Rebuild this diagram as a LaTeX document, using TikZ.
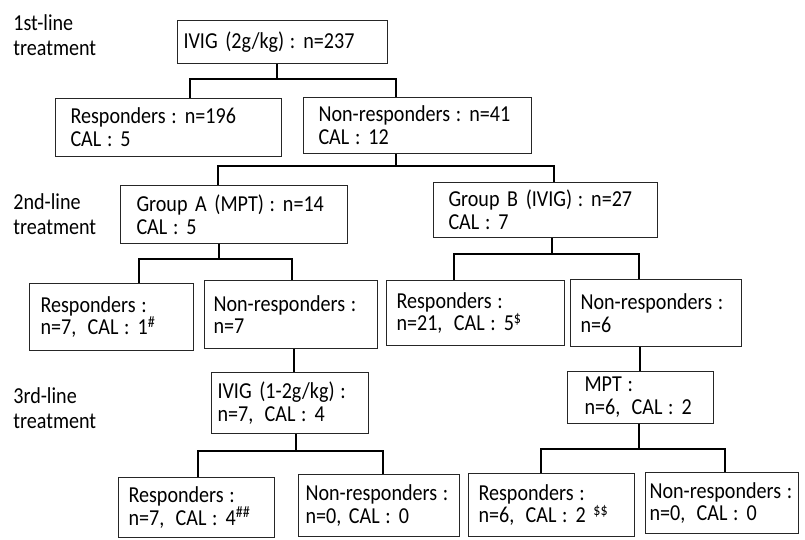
\documentclass[tikz,border=0pt]{standalone}
\usepackage{fontspec}
\setmainfont{Carlito}[FakeStretch=0.88]
\usetikzlibrary{positioning}
\newcommand{\kcol}{\nobreak\hspace{0.25em}:}
\newcommand{\ksep}{\kcol\nobreak\hspace{0.35em}}

\begin{document}
\begin{tikzpicture}[x=0.02cm, y=-0.02cm,
    every node/.style={font=\fontsize{13}{13}\selectfont},
    box/.style={draw=black!85, line width=0.6pt, anchor=north west, align=left, inner ysep=0pt},
    lbl/.style={anchor=west, align=left, inner sep=0pt, font=\fontsize{13}{14}\selectfont},
    link/.style={line width=1pt}]
  \useasboundingbox (0,0) rectangle (805,540);

  % Stufen
  \node[lbl] (l1) at (13,35) {1st-line\\treatment};
  \node[lbl] (l2) at (13,214) {2nd-line\\treatment};
  \node[lbl] (l3) at (13,408) {3rd-line\\treatment};

  % 1st-line
  \node[box, inner xsep=0.12cm, text width=3.96cm, minimum height=0.86cm] (root) at (177,20) {IVIG (2g/kg)\ksep n=237};
  \node[box, inner xsep=0.3cm, text width=3.92cm, minimum height=1.16cm] (r1) at (55,98) {Responders\ksep n=196\\CAL\ksep 5};
  \node[box, inner xsep=0.3cm, text width=3.96cm, minimum height=1.12cm] (n1) at (303,97) {Non-responders\ksep n=41\\CAL\ksep 12};

  % 2nd-line
  \node[box, inner xsep=0.32cm, text width=3.9cm, minimum height=1.16cm] (gA) at (120,185) {Group A (MPT)\ksep n=14\\CAL\ksep 5};
  \node[box, inner xsep=0.3cm, text width=3.88cm, minimum height=1.1cm] (gB) at (433,182) {Group B (IVIG)\ksep n=27\\CAL\ksep 7};
  \node[box, inner xsep=0.22cm, text width=2.84cm, minimum height=1.34cm] (rA) at (29,283) {Responders\kcol\\n=7,\enspace CAL\ksep 1\textsuperscript{\#}};
  \node[box, inner xsep=0.18cm, text width=3.1cm, minimum height=1.36cm] (nA) at (204,280) {Non-responders\kcol\\n=7};
  \node[box, inner xsep=0.2cm, text width=3.16cm, minimum height=1.3cm] (rB) at (386,280) {Responders\kcol\\n=21,\enspace CAL\ksep 5\textsuperscript{\$}};
  \node[box, inner xsep=0.2cm, text width=3.02cm, minimum height=1.34cm] (nB) at (570,279) {Non-responders\kcol\\n=6};

  % 3rd-line
  \node[box, inner xsep=0.12cm, text width=2.9cm, minimum height=1.22cm] (iv2) at (211,372) {IVIG (1-2g/kg)\kcol\\n=7,\enspace CAL\ksep 4};
  \node[box, inner xsep=0.34cm, text width=2.24cm, minimum height=1.04cm] (mpt) at (567,371) {MPT\kcol\\n=6,\enspace CAL\ksep 2};
  \node[box, inner xsep=0.2cm, text width=2.72cm, minimum height=1.2cm] (rC) at (118,477) {Responders\kcol\\n=7,\enspace CAL\ksep 4\textsuperscript{\#\#}};
  \node[box, inner xsep=0.14cm, text width=2.94cm, minimum height=1.24cm] (nC) at (298,474) {Non-responders\kcol\\n=0, CAL\ksep 0};
  \node[box, inner xsep=0.2cm, text width=2.92cm, minimum height=1.26cm] (rD) at (468,473) {Responders\kcol\\n=6,\enspace CAL\ksep 2 \textsuperscript{\$\$}};
  \node[box, inner xsep=0.08cm, text width=2.9cm, minimum height=1.22cm] (nD) at (645,472) {Non-responders\kcol\\n=0,\enspace CAL\ksep 0};

  % Verbindungen
  \coordinate (j1) at (277,79);
  \draw[link] ([xshift=2cm]root.south west) -- (j1);
  \draw[link] ([xshift=2.7cm]r1.north west) |- (j1) -| ([xshift=1.86cm]n1.north west);

  \coordinate (j2) at (396,166);
  \draw[link] ([xshift=1.86cm]n1.south west) -- (j2);
  \draw[link] ([xshift=1.96cm]gA.north west) |- (j2) -| ([xshift=2.42cm]gB.north west);

  \coordinate (j3) at (219,259);
  \draw[link] ([xshift=1.98cm]gA.south west) -- (j3);
  \draw[link] ([xshift=2.2cm]rA.north west) |- (j3) -| ([xshift=1.76cm]nA.north west);

  \coordinate (j4) at (552,254);
  \draw[link] ([xshift=2.38cm]gB.south west) -- (j4);
  \draw[link] ([xshift=1.36cm]rB.north west) |- (j4) -| ([xshift=1.38cm]nB.north west);

  \draw[link] ([xshift=1.8cm]nA.south west) -- ([xshift=1.66cm]iv2.north west);
  \draw[link] ([xshift=1.4cm]nB.south west) -- ([xshift=1.46cm]mpt.north west);

  \coordinate (j5) at (296,451);
  \draw[link] ([xshift=1.7cm]iv2.south west) -- (j5);
  \draw[link] ([xshift=1.6cm]rC.north west) |- (j5) -| ([xshift=1.7cm]nC.north west);

  \coordinate (j6) at (639,449);
  \draw[link] ([xshift=1.44cm]mpt.south west) -- (j6);
  \draw[link] ([xshift=1.46cm]rD.north west) |- (j6) -| ([xshift=1.6cm]nD.north west);

\end{tikzpicture}
\end{document}
